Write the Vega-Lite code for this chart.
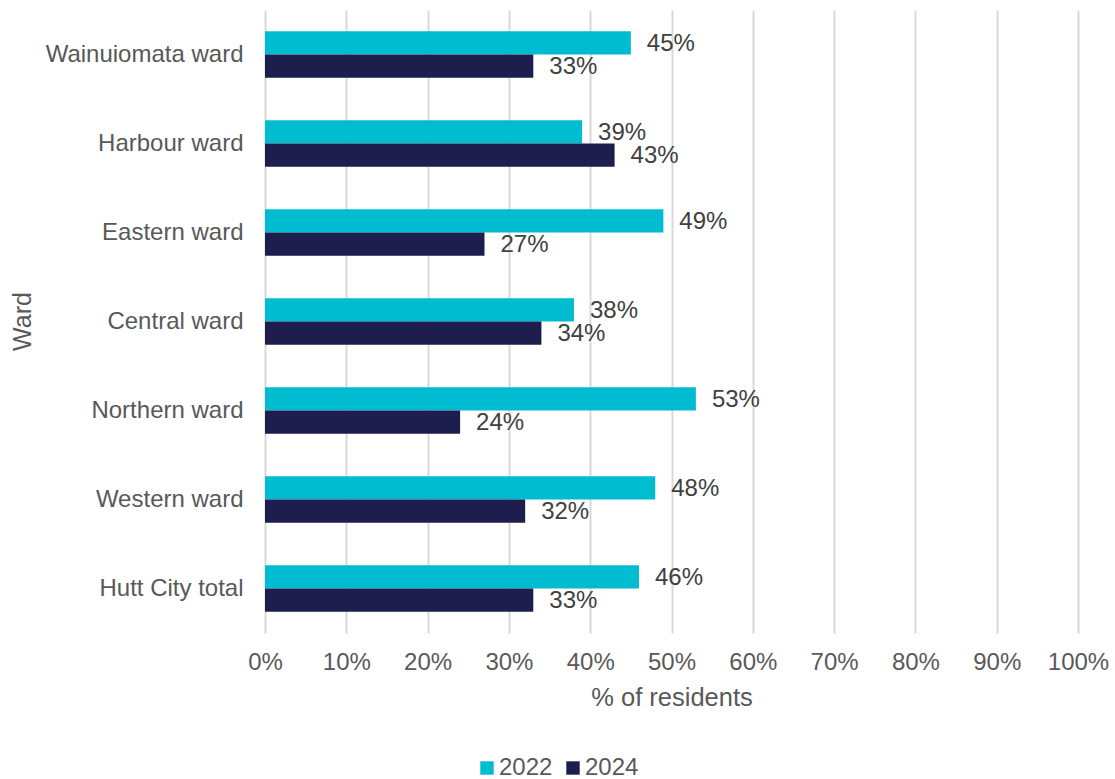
{
  "$schema": "https://vega.github.io/schema/vega-lite/v6.json",
  "width": 813,
  "height": 623,
  "autosize": "none",
  "padding": {"left": 265, "top": 10, "right": 37, "bottom": 146},
  "background": "white",
  "config": {
    "font": "Liberation Sans",
    "view": {"stroke": null}
  },
  "data": {
    "values": [
      {"ward": "Wainuiomata ward", "year": "2022", "value": 0.45},
      {"ward": "Wainuiomata ward", "year": "2024", "value": 0.33},
      {"ward": "Harbour ward", "year": "2022", "value": 0.39},
      {"ward": "Harbour ward", "year": "2024", "value": 0.43},
      {"ward": "Eastern ward", "year": "2022", "value": 0.49},
      {"ward": "Eastern ward", "year": "2024", "value": 0.27},
      {"ward": "Central ward", "year": "2022", "value": 0.38},
      {"ward": "Central ward", "year": "2024", "value": 0.34},
      {"ward": "Northern ward", "year": "2022", "value": 0.53},
      {"ward": "Northern ward", "year": "2024", "value": 0.24},
      {"ward": "Western ward", "year": "2022", "value": 0.48},
      {"ward": "Western ward", "year": "2024", "value": 0.32},
      {"ward": "Hutt City total", "year": "2022", "value": 0.46},
      {"ward": "Hutt City total", "year": "2024", "value": 0.33}
    ]
  },
  "encoding": {
    "y": {
      "field": "ward",
      "type": "nominal",
      "sort": null,
      "scale": {"paddingInner": 0.48, "paddingOuter": 0.24},
      "axis": {
        "title": "Ward",
        "titleFontSize": 25,
        "titleFontWeight": "normal",
        "titleColor": "#595959",
        "titleX": -243,
        "titleY": 311,
        "titleAlign": "center",
        "titleBaseline": "middle",
        "labelFontSize": 24,
        "labelColor": "#595959",
        "labelPadding": 22,
        "ticks": false,
        "domain": false,
        "labelLimit": 400
      }
    },
    "yOffset": {"field": "year", "type": "nominal", "scale": {"paddingInner": 0, "paddingOuter": 0}},
    "x": {
      "field": "value",
      "type": "quantitative",
      "scale": {"domain": [0, 1], "nice": false},
      "axis": {
        "title": "% of residents",
        "format": ".0%",
        "values": [0, 0.1, 0.2, 0.3, 0.4, 0.5, 0.6, 0.7, 0.8, 0.9, 1],
        "titleFontSize": 25.5,
        "titleFontWeight": "normal",
        "titleColor": "#595959",
        "titlePadding": 11,
        "labelFontSize": 24,
        "labelColor": "#595959",
        "labelPadding": 17,
        "labelFlush": false,
        "labelOverlap": false,
        "ticks": false,
        "domain": false,
        "grid": true,
        "gridColor": "#d9d9d9",
        "gridWidth": 2
      }
    }
  },
  "layer": [
    {
      "mark": {"type": "bar"},
      "encoding": {
        "color": {
          "field": "year",
          "type": "nominal",
          "scale": {"domain": ["2022", "2024"], "range": ["#00BCD0", "#1E1E4E"]},
          "legend": {
            "title": null,
            "orient": "none",
            "direction": "horizontal",
            "legendX": 210,
            "legendY": 746,
            "symbolType": "square",
            "symbolSize": 180,
            "symbolStrokeWidth": 0,
            "labelFontSize": 24,
            "labelColor": "#595959",
            "labelOffset": 0,
            "columnPadding": 8
          }
        }
      }
    },
    {
      "mark": {"type": "text", "align": "left", "baseline": "middle", "dx": 16, "dy": 1, "fontSize": 24, "color": "#404040"},
      "encoding": {
        "text": {"field": "value", "type": "quantitative", "format": ".0%"}
      }
    }
  ]
}
